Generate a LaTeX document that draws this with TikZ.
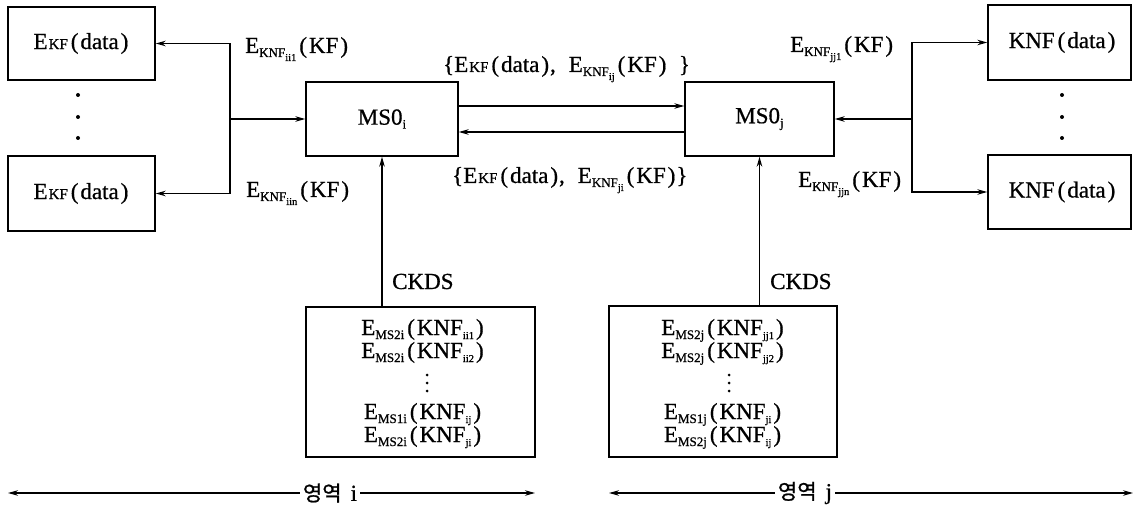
\documentclass[tikz,border=0pt]{standalone}
\usepackage{fontspec}
\setmainfont{Liberation Serif}[FakeBold=0.7]
\newfontfamily\kr{Noto Sans CJK KR}[FakeBold=1]
\usetikzlibrary{arrows.meta}
\newcommand\SB[1]{\raisebox{-4pt}{\fontsize{13}{13}\selectfont #1}}
\newcommand\SSB[1]{\raisebox{-4pt}{\fontsize{10.5}{10.5}\selectfont #1}}
\newcommand\KFs{\kern1pt{\fontsize{15}{15}\selectfont KF}}
\newcommand\LP{\kern3pt(\kern2pt}
\newcommand\RP{\kern2pt)\kern1pt}
\newcommand\CM{,\hspace{13pt}}
\begin{document}
\begin{tikzpicture}[x=1pt,y=-1pt,font=\fontsize{23}{25}\selectfont,
  box/.style={draw,line width=1.4pt,inner sep=0pt},
  arr/.style={line width=1.3pt,-{Stealth[length=10pt,width=5.5pt]}},
  lbl/.style={inner sep=0pt,anchor=base west},
  txt/.style={inner sep=0pt,anchor=base},
  dotn/.style={circle,fill,inner sep=0pt,minimum size=4pt},
  sdot/.style={circle,fill,inner sep=0pt,minimum size=3pt},
  reg/.style={inner xsep=3pt,inner ysep=0pt}]
\useasboundingbox[fill=white] (0,0) rectangle (1138,505);
% left data boxes
\node[box,minimum width=147pt,minimum height=73pt] (L1) at (81.5,43.5) {E\KFs\LP data\RP};
\node[box,minimum width=147pt,minimum height=75pt] (L2) at (81.5,193.5) {E\KFs\LP data\RP};
\node[dotn] (ld1) at (78,95) {};
\node[dotn] (ld2) at (78,117) {};
\node[dotn] (ld3) at (78,138) {};
% right data boxes
\node[box,minimum width=143pt,minimum height=75pt] (R1) at (1059.5,42.5) {\kern6pt KNF\LP data\RP};
\node[box,minimum width=143pt,minimum height=74pt] (R2) at (1059.5,192) {\kern6pt KNF\LP data\RP};
\node[dotn] (rd1) at (1062,95) {};
\node[dotn] (rd2) at (1062,117) {};
\node[dotn] (rd3) at (1062,138) {};
% MS0 boxes
\node[box,minimum width=152pt,minimum height=74pt] (Mi) at (382,119) {MS0\SB{i}};
\node[box,minimum width=149pt,minimum height=74pt] (Mj) at (759.5,119) {MS0\SB{j}};
% bottom boxes
\node[box,minimum width=229pt,minimum height=150pt] (Bi) at (420.5,382) {};
\node[box,minimum width=228pt,minimum height=151pt] (Bj) at (723,381.5) {};
\node[txt] (bi1) at (423,335) {E\SB{MS2i}\LP KNF\SSB{ii1}\RP};
\node[txt] (bi2) at (423,358) {E\SB{MS2i}\LP KNF\SSB{ii2}\RP};
\node[sdot] (bi3a) at (427,375) {};
\node[sdot] (bi3b) at (427,383) {};
\node[sdot] (bi3c) at (427,391) {};
\node[txt] (bi4) at (423,419) {E\SB{MS1i}\LP KNF\SSB{ij}\RP};
\node[txt] (bi5) at (423,442) {E\SB{MS2i}\LP KNF\SSB{ji}\RP};
\node[txt] (bj1) at (723,335) {E\SB{MS2j}\LP KNF\SSB{jj1}\RP};
\node[txt] (bj2) at (723,358) {E\SB{MS2j}\LP KNF\SSB{jj2}\RP};
\node[sdot] (bj3a) at (729,375) {};
\node[sdot] (bj3b) at (729,383) {};
\node[sdot] (bj3c) at (729,391) {};
\node[txt] (bj4) at (723,419) {E\SB{MS1j}\LP KNF\SSB{ji}\RP};
\node[txt] (bj5) at (723,442) {E\SB{MS2j}\LP KNF\SSB{ij}\RP};
% labels
\node[lbl] (la1) at (245,53) {E\SB{KNF\SSB{ii1}}\LP KF\RP};
\node[lbl] (la2) at (246,197) {E\SB{KNF\SSB{iin}}\LP KF\RP};
\node[lbl] (la3) at (790,52) {E\SB{KNF\SSB{jj1}}\LP KF\RP};
\node[lbl] (la4) at (798,187) {E\SB{KNF\SSB{jjn}}\LP KF\RP};
\node[lbl] (lt) at (443,72) {\{E\KFs\LP data\RP\CM E\SB{KNF\SSB{ij}}\LP KF\RP\ \ \}};
\node[lbl] (lb) at (452,183) {\{E\KFs\LP data\RP\CM E\SB{KNF\SSB{ji}}\LP KF\RP\}};
\node[lbl] (ck1) at (392,289) {CKDS};
\node[lbl] (ck2) at (770,289) {CKDS};
% left fan
\coordinate (ji) at (230,119);
\draw[arr] (ji) -- (Mi.west);
\draw[arr] (ji) |- (L1.east);
\draw[arr] (ji) |- (L2.east);
% right fan
\coordinate (jj) at (912,119);
\draw[arr] (jj) -- (Mj.east);
\draw[arr] (jj) |- (R1.west);
\draw[arr] (jj) |- (R2.west);
% between MS0s
\coordinate (up) at (0,106);
\coordinate (dn) at (0,132);
\draw[arr] (Mi.east |- up) -- (Mj.west |- up);
\draw[arr] (Mj.west |- dn) -- (Mi.east |- dn);
% CKDS
\draw[arr] (Mi.south |- Bi.north) -- (Mi.south);
\draw[arr] (Mj.south |- Bj.north) -- (Mj.south);
% regions
\node[reg] (ri) at (330,493) {{\kr\fontsize{21}{21}\selectfont 영역}\hspace{9pt}i};
\node[reg] (rj) at (805,493) {{\kr\fontsize{21}{21}\selectfont 영역}\hspace{9pt}j};
\coordinate (ail) at (8,493);
\coordinate (air) at (535,493);
\coordinate (ajl) at (609,493);
\coordinate (ajr) at (1133,493);
\draw[arr] (ri.west) -- (ail);
\draw[arr] (ri.east) -- (air);
\draw[arr] (rj.west) -- (ajl);
\draw[arr] (rj.east) -- (ajr);
\end{tikzpicture}
\end{document}
